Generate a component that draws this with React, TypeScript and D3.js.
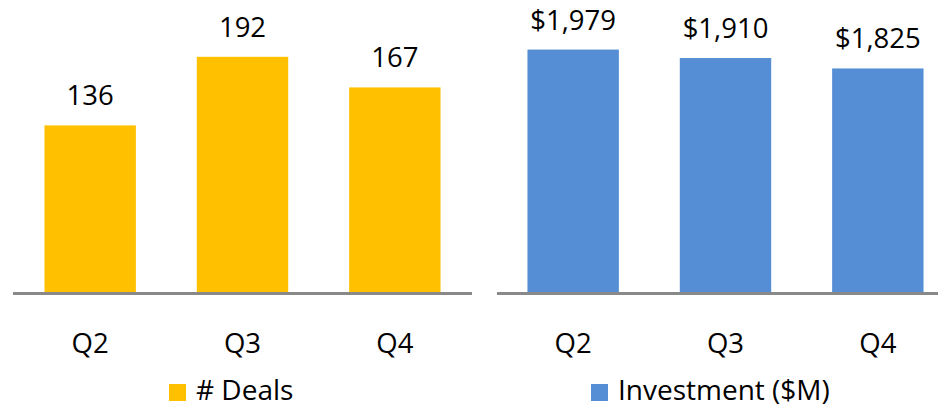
import * as d3 from "d3";

const quarters = ["Q2", "Q3", "Q4"];
const deals = [136, 192, 167];
const investment = [1979, 1910, 1825];

const W = 938;
const H = 408;
const FONT = "'Open Sans', 'Liberation Sans', sans-serif";
const baseY = 292;

type PanelProps = {
  values: number[];
  max: number;
  x0: number;
  x1: number;
  axisFrom: number;
  axisTo: number;
  color: string;
  fmt: (v: number) => string;
  legend: string;
  legendX: number;
};

const Panel = ({ values, max, x0, x1, axisFrom, axisTo, color, fmt, legend, legendX }: PanelProps) => {
  const x = d3.scaleBand().domain(quarters).range([x0, x1]).paddingInner(0.4).paddingOuter(0.2);
  const y = d3.scaleLinear().domain([0, max]).range([baseY, 47]);

  return (
    <g>
      {quarters.map((q, i) => (
        <g key={q}>
          <rect
            x={x(q)}
            y={y(values[i])}
            width={x.bandwidth()}
            height={y(0) - y(values[i])}
            fill={color}
          />
          <text
            x={(x(q) as number) + x.bandwidth() / 2}
            y={y(values[i]) - 20}
            textAnchor="middle"
            fontSize={27.5}
            fill="#000"
          >
            {fmt(values[i])}
          </text>
          <text
            x={(x(q) as number) + x.bandwidth() / 2}
            y={353}
            textAnchor="middle"
            fontSize={27.5}
            fill="#000"
          >
            {q}
          </text>
        </g>
      ))}
      <line x1={axisFrom} x2={axisTo} y1={baseY + 1.5} y2={baseY + 1.5} stroke="#898989" strokeWidth={3} />
      <rect x={legendX} y={384} width={17} height={17} fill={color} />
      <text x={legendX + 27} y={400} fontSize={28} fill="#000">
        {legend}
      </text>
    </g>
  );
};

export default function App() {
  return (
    <svg
      width={W}
      height={H}
      viewBox={`0 0 ${W} ${H}`}
      style={{ position: "fixed", left: 0, top: 0, display: "block", background: "#fff" }}
      fontFamily={FONT}
    >
      <Panel
        values={deals}
        max={200}
        x0={14}
        x1={471}
        axisFrom={13}
        axisTo={472}
        color="#FFC000"
        fmt={d3.format(",")}
        legend="# Deals"
        legendX={169}
      />
      <Panel
        values={investment}
        max={2000}
        x0={497}
        x1={954}
        axisFrom={497}
        axisTo={938}
        color="#558ED5"
        fmt={d3.format("$,")}
        legend="Investment ($M)"
        legendX={591}
      />
    </svg>
  );
}
